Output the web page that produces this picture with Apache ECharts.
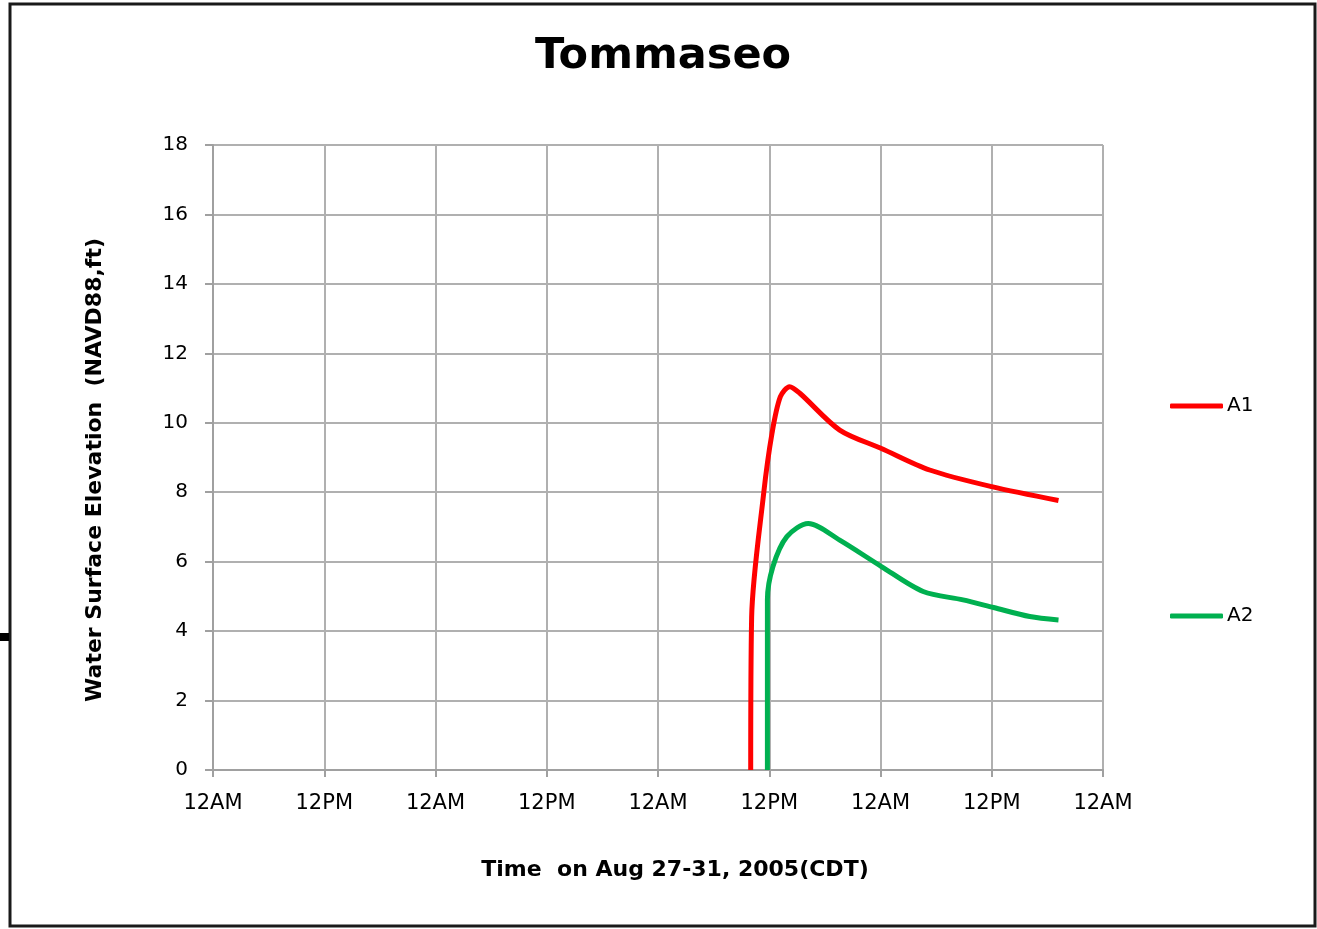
<!DOCTYPE html>
<html>
<head>
<meta charset="utf-8">
<style>html,body{margin:0;padding:0;background:#fff;}#chart{width:1317px;height:929px;}</style>
<script src="https://cdn.jsdelivr.net/npm/echarts@6/dist/echarts.min.js"></script>
</head>
<body>
<div id="chart"></div>
<script>
// Hours since 12AM Aug 27, 2005 (CDT)
const xTickLabels = ['12AM','12PM','12AM','12PM','12AM','12PM','12AM','12PM','12AM'];
const seriesNames = ['A1','A2'];
const a1Hours  = [58.0, 58.1, 59.4, 60.3, 61.2, 62.2, 63.3, 67.6, 72.1, 77.3, 84.0, 91.2];
const a1Values = [0.0, 4.4, 7.97, 9.7, 10.75, 11.04, 10.85, 9.79, 9.26, 8.64, 8.16, 7.76];
const a2Hours  = [59.8, 59.8, 60.4, 61.9, 64.2, 67.6, 72.1, 76.6, 80.9, 84.2, 88.1, 91.2];
const a2Values = [0.0, 4.9, 5.86, 6.72, 7.1, 6.62, 5.86, 5.14, 4.9, 4.68, 4.42, 4.32];
const seriesColors = ['#ff0000','#00b050'];
const yTitle = 'Water Surface Elevation  (NAVD88,ft)';
const xTitle = 'Time  on Aug 27-31, 2005(CDT)';

const pairs = (xs, ys) => xs.map((x, i) => [x, ys[i]]);
const chart = echarts.init(document.getElementById('chart'));
const font = 'DejaVu Sans, Verdana, sans-serif';
chart.setOption({
  animation: false,
  backgroundColor: '#fff',
  title: {
    text: 'Tommaseo', left: 530, top: 30,
    textStyle: { fontFamily: font, fontSize: 43, fontWeight: 'bold', color: '#000' }
  },
  graphic: [
    { type: 'rect', shape: { x: 10, y: 4, width: 1305, height: 922 },
      style: { fill: 'none', stroke: '#1a1a1a', lineWidth: 3 }, silent: true },
    { type: 'rect', shape: { x: 0, y: 633, width: 9, height: 8 },
      style: { fill: '#000' }, silent: true },
    { type: 'text', x: 95, y: 470, rotation: Math.PI / 2,
      style: { text: yTitle, fontFamily: font, fontSize: 22, fontWeight: 'bold', fill: '#000',
        align: 'center', verticalAlign: 'middle' }, silent: true },
    { type: 'text', x: 675, y: 870,
      style: { text: xTitle, fontFamily: font, fontSize: 22, fontWeight: 'bold', fill: '#000',
        align: 'center', verticalAlign: 'middle' }, silent: true }
  ],
  legend: {
    orient: 'vertical', left: 1165, top: 391, itemGap: 190,
    itemWidth: 53, itemHeight: 5, icon: 'roundRect',
    textStyle: { fontFamily: font, fontSize: 20, color: '#000', padding: [0,0,0,-1] },
    data: seriesNames
  },
  grid: { left: 213, right: 214, top: 145, bottom: 159 },
  xAxis: {
    type: 'value', min: 0, max: 96, interval: 12,
    axisLine: { show: true, lineStyle: { color: '#a0a0a0', width: 2 } },
    axisTick: { show: true, length: 7, lineStyle: { color: '#a0a0a0', width: 2 } },
    axisLabel: { fontFamily: font, fontSize: 21, color: '#000', margin: 23,
      formatter: v => xTickLabels[Math.round(v / 12)] },
    splitLine: { show: true, lineStyle: { color: '#b0b0b0', width: 2 } }
  },
  yAxis: {
    type: 'value', min: 0, max: 18, interval: 2,
    axisLine: { show: true, lineStyle: { color: '#a0a0a0', width: 2 } },
    axisTick: { show: true, length: 8, lineStyle: { color: '#a0a0a0', width: 2 } },
    axisLabel: { fontFamily: font, fontSize: 20, color: '#000', margin: 25 },
    splitLine: { show: true, lineStyle: { color: '#b0b0b0', width: 2 } }
  },
  series: [
    { name: seriesNames[0], type: 'line', data: pairs(a1Hours, a1Values), symbol: 'none',
      smooth: 0.3, lineStyle: { color: seriesColors[0], width: 5 }, itemStyle: { color: seriesColors[0] } },
    { name: seriesNames[1], type: 'line', data: pairs(a2Hours, a2Values), symbol: 'none',
      smooth: 0.3, lineStyle: { color: seriesColors[1], width: 5 }, itemStyle: { color: seriesColors[1] } }
  ]
});
</script>
</body>
</html>
